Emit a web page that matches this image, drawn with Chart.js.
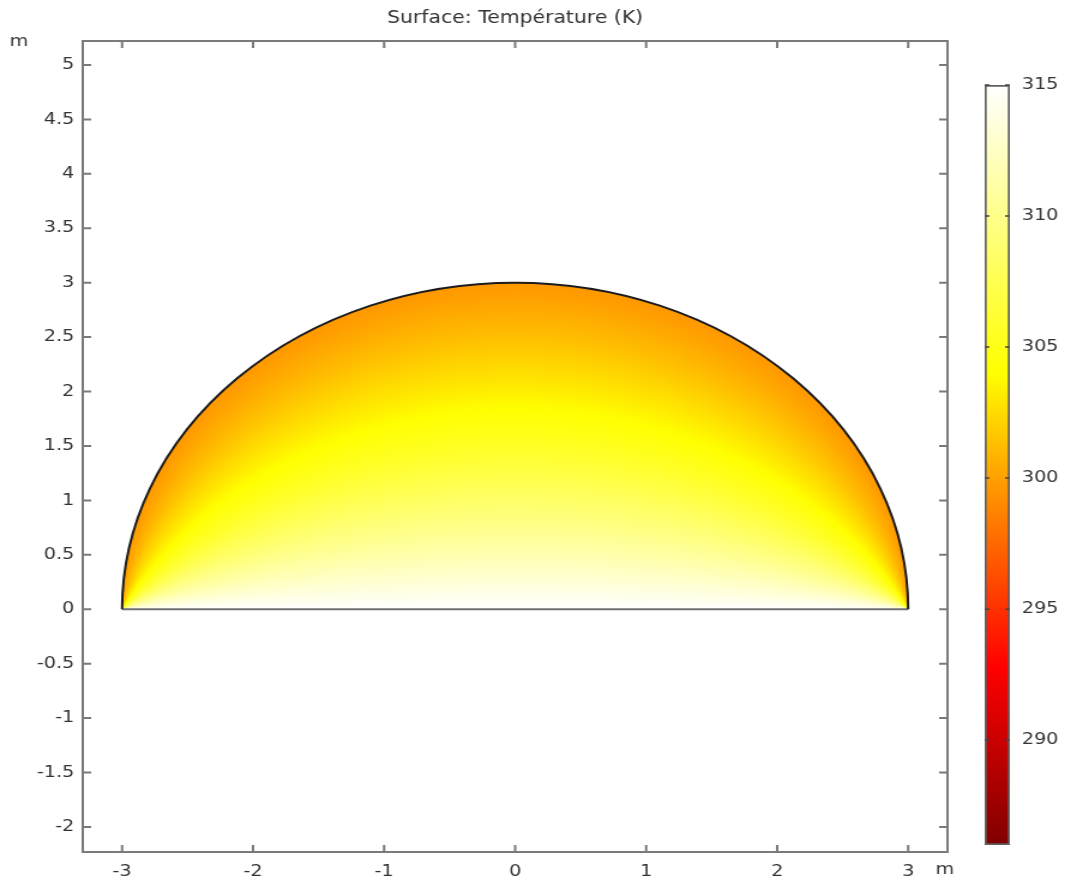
<!DOCTYPE html>
<html>
<head>
<meta charset="utf-8">
<script src="https://cdn.jsdelivr.net/npm/chart.js@4"></script>
<style>
  html, body { margin: 0; padding: 0; background: #fff; }
  #wrap { position: relative; width: 1083px; height: 883px; }
  #wrap canvas { position: absolute; left: 0; top: 0; }
</style>
</head>
<body>
<div id="wrap">
  <canvas id="plot" width="903" height="883" style="width:1083px;height:883px"></canvas>
  <canvas id="cbar" width="903" height="883" style="width:1083px;height:883px"></canvas>
</div>
<script>
const title = 'Surface: Température (K)';
const unit = 'm';
const xTicks = [-3, -2, -1, 0, 1, 2, 3];
const yTicks = [-2, -1.5, -1, -0.5, 0, 0.5, 1, 1.5, 2, 2.5, 3, 3.5, 4, 4.5, 5];
const xRange = [-3.3, 3.3];
const yRange = [-2.23, 5.22];
const radius = 3;

// temperature read along x = 0, from the base up to the top of the arc
// (isotherms are arcs through the two corners)
const centreHeights = [0, 0.25, 0.5, 0.75, 1, 1.25, 1.5, 1.75, 2, 2.25, 2.5, 2.75, 3];
const centreTemps = [315, 313.3, 311.6, 310, 308.5, 307, 305.6, 304.4, 303.3, 302.3, 301.3, 300.4, 299.6];

const tempRange = [286, 315];
const cbarTicks = [290, 295, 300, 305, 310, 315];
const cmapTemps = [286, 292.8, 300, 304, 315];
const cmapColors = [[128, 0, 0], [255, 0, 0], [255, 160, 0], [255, 255, 0], [255, 255, 255]];

const font = { family: 'DejaVu Sans', size: 16 };
const textColor = '#333';

function interp(xs, ys, v) {
    if (v <= xs[0]) return ys[0];
    for (let i = 1; i < xs.length; i++) {
        if (v <= xs[i]) {
            const f = (v - xs[i - 1]) / (xs[i] - xs[i - 1]);
            return ys[i - 1] + f * (ys[i] - ys[i - 1]);
        }
    }
    return ys[ys.length - 1];
}

function colourFor(t) {
    return [0, 1, 2].map(k => Math.round(interp(cmapTemps, cmapColors.map(c => c[k]), t)));
}

const heatPlugin = {
    id: 'heat',
    beforeDatasetsDraw(chart) {
        const { ctx, chartArea: a, scales: { x, y } } = chart;
        const left = Math.round(a.left), top = Math.round(a.top);
        const w = Math.round(a.right) - left, h = Math.round(a.bottom) - top;
        const img = ctx.getImageData(left, top, w, h);
        const xs = [], ys = [];
        for (let i = 0; i < w; i++) xs.push(x.getValueForPixel(left + i + 0.5));
        for (let j = 0; j < h; j++) ys.push(y.getValueForPixel(top + j + 0.5));
        const r2 = radius * radius;
        for (let j = 0; j < h; j++) {
            const yv = ys[j];
            if (yv <= 0 || yv > radius) continue;
            for (let i = 0; i < w; i++) {
                const xv = xs[i];
                const d2 = xv * xv + yv * yv;
                if (d2 > r2) continue;
                // height at x = 0 of the arc through both corners and this point
                const c = (d2 - r2) / (2 * yv);
                const s = Math.sqrt(r2 + c * c);
                const hTop = c >= 0 ? c + s : r2 / (s - c);
                const col = colourFor(interp(centreHeights, centreTemps, hTop));
                const k = (j * w + i) * 4;
                img.data[k] = col[0];
                img.data[k + 1] = col[1];
                img.data[k + 2] = col[2];
                img.data[k + 3] = 255;
            }
        }
        ctx.putImageData(img, left, top);
    },
    afterDatasetsDraw(chart) {
        const { ctx, scales: { x, y } } = chart;
        const cx = x.getPixelForValue(0), cy = y.getPixelForValue(0);
        const rx = x.getPixelForValue(radius) - cx;
        const ry = cy - y.getPixelForValue(radius);
        ctx.save();
        ctx.lineWidth = 2;
        ctx.strokeStyle = '#707070';
        ctx.beginPath();
        ctx.moveTo(x.getPixelForValue(-radius), cy);
        ctx.lineTo(x.getPixelForValue(radius), cy);
        ctx.stroke();
        ctx.strokeStyle = '#1c1c1c';
        ctx.beginPath();
        ctx.ellipse(cx, cy, rx, ry, 0, Math.PI, 2 * Math.PI);
        ctx.stroke();
        ctx.restore();
    }
};

const framePlugin = {
    id: 'frame',
    afterDraw(chart) {
        const { ctx, chartArea: a, scales: { x, y } } = chart;
        ctx.save();
        ctx.strokeStyle = '#7a7a7a';
        ctx.lineWidth = 2;
        ctx.strokeRect(a.left, a.top, a.right - a.left, a.bottom - a.top);
        const len = 7;
        ctx.beginPath();
        xTicks.forEach(v => {
            const px = x.getPixelForValue(v);
            ctx.moveTo(px, a.bottom); ctx.lineTo(px, a.bottom - len);
            ctx.moveTo(px, a.top); ctx.lineTo(px, a.top + len);
        });
        yTicks.forEach(v => {
            const py = y.getPixelForValue(v);
            ctx.moveTo(a.left, py); ctx.lineTo(a.left + len, py);
            ctx.moveTo(a.right, py); ctx.lineTo(a.right - len, py);
        });
        ctx.stroke();

        ctx.fillStyle = textColor;
        ctx.textBaseline = 'middle';
        ctx.textAlign = 'center';
        ctx.font = '17px "DejaVu Sans"';
        ctx.fillText(title, (a.left + a.right) / 2, 19);
        ctx.font = '16px "DejaVu Sans"';
        ctx.textAlign = 'left';
        ctx.fillText(unit, 8, 42);
        ctx.fillText(unit, 780, 870);
        ctx.restore();
    }
};

new Chart(document.getElementById('plot'), {
    type: 'scatter',
    data: { datasets: [] },
    options: {
        responsive: false,
        animation: false,
        events: [],
        layout: { padding: { left: 0, top: 41, right: 113, bottom: 0 } },
        plugins: { legend: { display: false }, tooltip: { enabled: false } },
        scales: {
            x: {
                type: 'linear',
                min: xRange[0],
                max: xRange[1],
                afterBuildTicks: s => { s.ticks = xTicks.map(v => ({ value: v })); },
                afterFit: s => { s.height = 31; },
                grid: { display: false, drawTicks: false },
                border: { display: false },
                ticks: { font, color: textColor, padding: 10, maxRotation: 0, autoSkip: false, callback: v => String(v) }
            },
            y: {
                type: 'linear',
                min: yRange[0],
                max: yRange[1],
                afterBuildTicks: s => { s.ticks = yTicks.map(v => ({ value: v })); },
                afterFit: s => { s.width = 69; },
                grid: { display: false, drawTicks: false },
                border: { display: false },
                ticks: { font, color: textColor, padding: 7, autoSkip: false, callback: v => String(v) }
            }
        }
    },
    plugins: [heatPlugin, framePlugin]
});

const cbarTickPlugin = {
    id: 'cbarTicks',
    afterDraw(chart) {
        const { ctx, chartArea: a, scales: { y } } = chart;
        ctx.save();
        ctx.strokeStyle = '#444';
        ctx.lineWidth = 1.5;
        ctx.beginPath();
        cbarTicks.forEach(v => {
            const py = y.getPixelForValue(v);
            ctx.moveTo(a.left, py); ctx.lineTo(a.left + 4, py);
            ctx.moveTo(a.right, py); ctx.lineTo(a.right - 4, py);
        });
        ctx.stroke();
        ctx.restore();
    }
};

new Chart(document.getElementById('cbar'), {
    type: 'bar',
    data: {
        labels: [''],
        datasets: [{
            data: [tempRange],
            backgroundColor: c => {
                const { ctx, chartArea, scales } = c.chart;
                if (!chartArea) return '#fff';
                const y = scales.y;
                const g = ctx.createLinearGradient(0, y.getPixelForValue(tempRange[0]), 0, y.getPixelForValue(tempRange[1]));
                cmapTemps.forEach((t, i) => {
                    const [r, gg, b] = cmapColors[i];
                    g.addColorStop((t - tempRange[0]) / (tempRange[1] - tempRange[0]), `rgb(${r},${gg},${b})`);
                });
                return g;
            },
            borderColor: '#606060',
            borderWidth: 2,
            borderSkipped: false,
            barPercentage: 1,
            categoryPercentage: 1
        }]
    },
    options: {
        responsive: false,
        animation: false,
        events: [],
        layout: { padding: { left: 821, top: 85, right: 0, bottom: 38 } },
        plugins: { legend: { display: false }, tooltip: { enabled: false } },
        scales: {
            x: { display: false },
            y: {
                position: 'right',
                min: tempRange[0],
                max: tempRange[1],
                afterBuildTicks: s => { s.ticks = cbarTicks.map(v => ({ value: v })); },
                afterFit: s => { s.width = 61; },
                grid: { display: false, drawTicks: false },
                border: { display: false },
                ticks: { font, color: textColor, padding: 10, autoSkip: false, callback: v => String(v) }
            }
        }
    },
    plugins: [cbarTickPlugin]
});
</script>
</body>
</html>
